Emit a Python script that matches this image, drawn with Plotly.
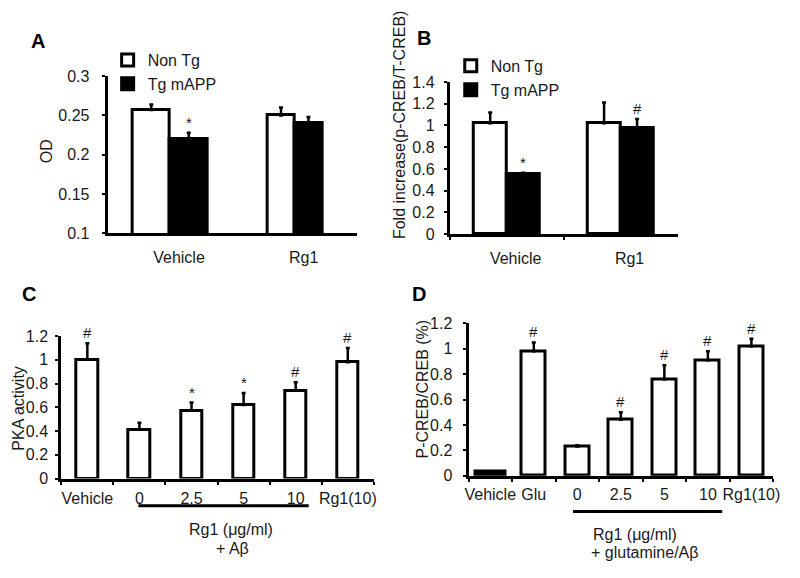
import plotly.graph_objects as go

# ---------------- data ----------------
# Panel A
a_groups = ["Vehicle", "Rg1"]
a_nontg = [0.257, 0.250]
a_nontg_err = [0.007, 0.010]
a_tg = [0.220, 0.240]
a_tg_err = [0.008, 0.008]
a_tg_sig = ["*", ""]
a_ticks = [0.1, 0.15, 0.2, 0.25, 0.3]
a_ticklabels = ["0.1", "0.15", "0.2", "0.25", "0.3"]

# Panel B
b_groups = ["Vehicle", "Rg1"]
b_nontg = [1.02, 1.02]
b_nontg_err = [0.10, 0.19]
b_tg = [0.55, 0.98]
b_tg_err = [0.015, 0.08]
b_tg_sig = ["*", "#"]

# Panel C
c_cats = ["Vehicle", "0", "2.5", "5", "10", "Rg1(10)"]
c_vals = [1.00, 0.41, 0.57, 0.62, 0.74, 0.98]
c_err = [0.14, 0.06, 0.07, 0.10, 0.07, 0.12]
c_sig = ["#", "", "*", "*", "#", "#"]

# Panel D
d_cats = ["Vehicle", "Glu", "0", "2.5", "5", "10", "Rg1(10)"]
d_vals = [0.03, 0.98, 0.23, 0.44, 0.76, 0.91, 1.02]
d_err = [0.005, 0.07, 0.01, 0.06, 0.11, 0.07, 0.06]
d_sig = ["", "#", "", "#", "#", "#", "#"]

# axis titles
a_title = "OD"
b_title = "Fold increase(p-CREB/T-CREB)"
c_title = "PKA activity"
d_title = "P-CREB/CREB (%)"

# ---------------- styling ----------------
# the page body keeps its default 8px margin, so the figure is sized to fit the window
PAD = 8
W, H = 800 - 2 * PAD, 578 - 2 * PAD
FONT = "Arial, Liberation Sans, sans-serif"
TXT = "#1a1a1a"

def fx(px):
    return (px - PAD) / W

def fy(py):
    return 1 - (py - PAD) / H

fig = go.Figure()

def err(arr):
    return dict(type="data", symmetric=False, array=arr, arrayminus=[0] * len(arr),
                color="black", thickness=2.5, width=2)

# A bar geometry (category units)
a_w = [0.30, 0.22]
a_off_n = [-w for w in a_w]
a_off_t = [0.0, 0.0]

fig.add_trace(go.Bar(x=a_groups, y=a_nontg, width=a_w, offset=a_off_n, name="Non Tg",
                     marker=dict(color="white", line=dict(color="black", width=3)),
                     error_y=err(a_nontg_err), xaxis="x", yaxis="y", legend="legend"))
fig.add_trace(go.Bar(x=a_groups, y=a_tg, width=a_w, offset=a_off_t, name="Tg mAPP",
                     marker=dict(color="black", line=dict(color="black", width=3)),
                     error_y=err(a_tg_err), xaxis="x", yaxis="y", legend="legend"))

b_w = [0.29, 0.29]
fig.add_trace(go.Bar(x=b_groups, y=b_nontg, width=b_w, offset=[-w for w in b_w], name="Non Tg",
                     marker=dict(color="white", line=dict(color="black", width=3)),
                     error_y=err(b_nontg_err), xaxis="x2", yaxis="y2", legend="legend2"))
fig.add_trace(go.Bar(x=b_groups, y=b_tg, width=b_w, offset=[0, 0], name="Tg mAPP",
                     marker=dict(color="black", line=dict(color="black", width=3)),
                     error_y=err(b_tg_err), xaxis="x2", yaxis="y2", legend="legend2"))

fig.add_trace(go.Bar(x=c_cats, y=c_vals, width=0.41, showlegend=False,
                     marker=dict(color="white", line=dict(color="black", width=3)),
                     error_y=err(c_err), xaxis="x3", yaxis="y3"))

d_w = [0.68] + [0.55] * (len(d_cats) - 1)
d_fill = ["black"] + ["white"] * (len(d_cats) - 1)
fig.add_trace(go.Bar(x=d_cats, y=d_vals, width=d_w, showlegend=False,
                     marker=dict(color=d_fill, line=dict(color="black", width=3)),
                     error_y=err(d_err), xaxis="x4", yaxis="y4"))

# significance markers
ann = []
def sig_marks(vals, errs, sigs, xref, yref, centers=None):
    for i, s in enumerate(sigs):
        if not s:
            continue
        xc = centers[i] if centers is not None else i
        ann.append(dict(x=xc, y=vals[i] + errs[i], xref=xref, yref=yref, text=s,
                        showarrow=False, xanchor="center", yanchor="bottom", yshift=0,
                        font=dict(family=FONT, size=15, color=TXT)))

sig_marks(a_tg, a_tg_err, a_tg_sig, "x", "y",
          centers=[i + a_off_t[i] + a_w[i] / 2 for i in range(2)])
sig_marks(b_tg, b_tg_err, b_tg_sig, "x2", "y2",
          centers=[i + b_w[i] / 2 for i in range(2)])
sig_marks(c_vals, c_err, c_sig, "x3", "y3")
sig_marks(d_vals, d_err, d_sig, "x4", "y4")

# panel letters
for letter, px, py in [("A", 34, 34), ("B", 426, 31), ("C", 25, 295), ("D", 421, 295)]:
    ann.append(dict(x=fx(px), y=fy(py), xref="paper", yref="paper", text=letter, showarrow=False,
                    xanchor="center", yanchor="middle",
                    font=dict(family=FONT, size=20, color="black", weight="bold")))

# rotated y-axis titles
for t, px, py in [(a_title, 43, 148), (b_title, 401, 120), (c_title, 15, 413), (d_title, 424, 393)]:
    ann.append(dict(x=fx(px), y=fy(py), xref="paper", yref="paper", text=t, showarrow=False,
                    textangle=-90, xanchor="center", yanchor="middle",
                    font=dict(family=FONT, size=16, color=TXT)))

# group captions under C and D
for t, px, py in [("Rg1 (μg/ml)", 230, 538), ("+ Aβ", 232, 557),
                  ("Rg1 (μg/ml)", 640, 543), ("+ glutamine/Aβ", 650, 561)]:
    ann.append(dict(x=fx(px), y=fy(py), xref="paper", yref="paper", text=t, showarrow=False,
                    xanchor="center", yanchor="middle",
                    font=dict(family=FONT, size=16, color=TXT)))

shapes = [
    dict(type="line", xref="x3", yref="paper", x0=0.98, x1=4.25, y0=fy(513), y1=fy(513),
         line=dict(color="black", width=3)),
    dict(type="line", xref="x4", yref="paper", x0=1.9, x1=5.33, y0=fy(519), y1=fy(519),
         line=dict(color="black", width=3)),
]

tickfont = dict(family=FONT, size=16, color=TXT)

def yax(anchor, domain, rng, dtick, labstand, tickvals=None, ticktext=None):
    d = dict(anchor=anchor, domain=domain, range=rng, showline=True, linecolor="black", linewidth=3,
             ticks="outside", ticklen=3, tickwidth=2, tickcolor="black",
             showgrid=False, zeroline=False, tickfont=tickfont,
             ticklabelstandoff=labstand)
    if tickvals is not None:
        d.update(tickmode="array", tickvals=tickvals, ticktext=ticktext)
    else:
        d.update(dtick=dtick, tick0=0)
    return d

def xax(anchor, domain, n, ticks, labstand, shift):
    return dict(anchor=anchor, domain=domain, type="category", range=[-0.5, n - 0.5], showline=True,
                linecolor="black", linewidth=3, ticks=ticks, ticklen=3, tickwidth=2,
                tickcolor="black", tickson="boundaries", showgrid=False, zeroline=False,
                tickfont=tickfont, ticklabelstandoff=labstand, ticklabelshift=shift,
                tickangle=0)

legfont = dict(family=FONT, size=16, color=TXT)
fig.update_layout(
    width=W, height=H, margin=dict(l=0, r=0, t=0, b=0),
    paper_bgcolor="white", plot_bgcolor="white",
    barmode="overlay", bargap=0,
    font=dict(family=FONT, color=TXT),
    xaxis=xax("y", [fx(105), fx(358)], 2, "", 8, 9),
    yaxis=yax("x", [fy(232), fy(70)], [0.1, 0.3], 0.05, 9,
              tickvals=a_ticks, ticktext=a_ticklabels),
    xaxis2=xax("y2", [fx(452), fx(683)], 2, "outside", 8, 9),
    yaxis2=yax("x2", [fy(233), fy(76)], [0, 1.4], 0.2, 6),
    xaxis3=xax("y3", [fx(58), fx(375)], 6, "outside", 3, 0),
    yaxis3=yax("x3", [fy(485), fy(338)], [0, 1.2], 0.2, 4),
    xaxis4=xax("y4", [fx(471), fx(780)], 7, "outside", 2, 0),
    yaxis4=yax("x4", [fy(482), fy(325)], [0, 1.2], 0.2, 7),
    legend=dict(x=fx(105), y=fy(36), xanchor="left", yanchor="top", bgcolor="rgba(0,0,0,0)",
                font=legfont, tracegroupgap=0, itemwidth=30),
    legend2=dict(x=fx(453), y=fy(42), xanchor="left", yanchor="top", bgcolor="rgba(0,0,0,0)",
                 font=legfont, tracegroupgap=0, itemwidth=30),
    annotations=ann, shapes=shapes,
)

fig.write_html("out.html")
